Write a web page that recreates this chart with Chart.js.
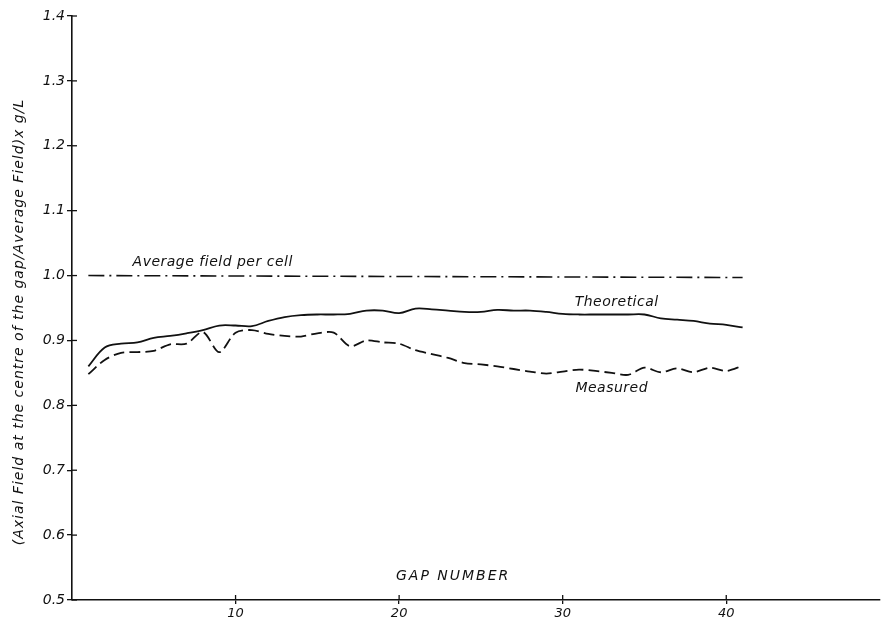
<!DOCTYPE html>
<html>
<head>
<meta charset="utf-8">
<script src="https://cdn.jsdelivr.net/npm/chart.js@4.4.1/dist/chart.umd.min.js"></script>
<style>
  html, body { margin: 0; padding: 0; background: #fff; }
  #wrap { width: 882px; height: 621px; }
</style>
</head>
<body>
<div id="wrap"><canvas id="grafica" width="882" height="621"></canvas></div>
<script>
// gap numbers 1..41
const gaps = [1,2,3,4,5,6,7,8,9,10,11,12,13,14,15,16,17,18,19,20,21,22,23,24,25,26,27,28,29,30,31,32,33,34,35,36,37,38,39,40,41];

const theoretical = [0.860,0.889,0.895,0.897,0.904,0.907,0.911,0.916,0.923,0.923,0.922,0.930,0.936,0.939,0.940,0.940,0.941,0.946,0.946,0.942,
  0.949,0.948,0.946,0.944,0.944,0.947,0.946,0.946,0.944,0.941,0.940,0.940,0.940,0.940,0.940,0.934,0.932,0.930,0.926,0.924,0.920];

const measured = [0.848,0.870,0.881,0.882,0.884,0.894,0.895,0.913,0.882,0.912,0.916,0.910,0.907,0.906,0.911,0.912,0.891,0.900,0.897,0.895,
  0.885,0.879,0.873,0.865,0.863,0.860,0.856,0.852,0.849,0.852,0.855,0.853,0.850,0.847,0.858,0.851,0.857,0.851,0.858,0.853,0.861];

const averageX = [1, 41];
const averageY = [1.0, 0.997];

const yTicks = [0.5,0.6,0.7,0.8,0.9,1.0,1.1,1.2,1.3,1.4];
const xTicks = [10,20,30,40];

// text labels placed in data units (centre of the text)
const notes = [
  {text: 'Average field per cell', x: 8.6, y: 1.02},
  {text: 'Theoretical', x: 33.3, y: 0.959},
  {text: 'Measured', x: 33.0, y: 0.826},
  {text: 'GAP NUMBER', x: 23.3, y: 0.537, spacing: '2px'}
];
const yTitle = '(Axial Field at the centre of the gap/Average Field)x g/L';

const FONT = '"DejaVu Sans", sans-serif';

const pts = (xs, ys) => xs.map((x, i) => ({x: x, y: ys[i]}));

// inner tick stubs, free texts and the rotated axis title
const extras = {
  id: 'extras',
  afterDraw(chart) {
    const c = chart.ctx, xs = chart.scales.x, ys = chart.scales.y;
    const left = chart.chartArea.left, bottom = chart.chartArea.bottom;
    const hasLS = 'letterSpacing' in c;
    c.save();
    c.strokeStyle = '#111';
    c.lineWidth = 1.3;
    yTicks.forEach(v => {
      const p = ys.getPixelForValue(v);
      c.beginPath(); c.moveTo(left, p); c.lineTo(left + 5, p); c.stroke();
    });
    xTicks.forEach(v => {
      const p = xs.getPixelForValue(v);
      c.beginPath(); c.moveTo(p, bottom); c.lineTo(p, bottom - 5); c.stroke();
    });
    c.fillStyle = '#111';
    c.textBaseline = 'middle';
    c.textAlign = 'center';
    notes.forEach(n => {
      c.font = 'oblique 14px ' + FONT;
      if (hasLS) c.letterSpacing = n.spacing || '0.5px';
      c.fillText(n.text, xs.getPixelForValue(n.x), ys.getPixelForValue(n.y));
    });
    c.translate(19, 322);
    c.rotate(-Math.PI / 2);
    c.font = 'oblique 14px ' + FONT;
    if (hasLS) c.letterSpacing = '1px';
    c.fillText(yTitle, 0, 0);
    c.restore();
  }
};

document.addEventListener('DOMContentLoaded', function () {
  const ctx = document.getElementById('grafica').getContext('2d');
  new Chart(ctx, {
    type: 'line',
    data: {
      datasets: [
        {
          label: 'Average field per cell',
          data: pts(averageX, averageY),
          borderColor: '#111', borderWidth: 1.6,
          borderDash: [16, 5, 2, 5],
          pointRadius: 0, tension: 0
        },
        {
          label: 'Theoretical',
          data: pts(gaps, theoretical),
          borderColor: '#111', borderWidth: 1.8,
          pointRadius: 0, tension: 0.35
        },
        {
          label: 'Measured',
          data: pts(gaps, measured),
          borderColor: '#111', borderWidth: 1.8,
          borderDash: [11, 5],
          pointRadius: 0, tension: 0.3
        }
      ]
    },
    options: {
      responsive: false,
      animation: false,
      layout: { padding: { top: 16, right: 2, left: 0, bottom: 0 } },
      plugins: { legend: { display: false }, tooltip: { enabled: false } },
      scales: {
        x: {
          type: 'linear', min: 0, max: 49.4,
          afterFit(scale) { scale.height = 21; },
          afterBuildTicks(scale) { scale.ticks = xTicks.map(v => ({value: v})); },
          grid: { drawOnChartArea: false, tickLength: 4, color: '#111', lineWidth: 1.3 },
          border: { color: '#111', width: 1.5 },
          ticks: { color: '#111', padding: 2, font: { family: FONT, size: 13, style: 'italic' } }
        },
        y: {
          type: 'linear', min: 0.5, max: 1.4,
          afterFit(scale) { scale.width = 72; },
          afterBuildTicks(scale) { scale.ticks = yTicks.map(v => ({value: v})); },
          grid: { drawOnChartArea: false, tickLength: 5, color: '#111', lineWidth: 1.3 },
          border: { color: '#111', width: 1.6 },
          ticks: {
            color: '#111', padding: 2,
            font: { family: FONT, size: 14, style: 'italic' },
            callback: v => v.toFixed(1)
          }
        }
      }
    },
    plugins: [extras]
  });
});
</script>
</body>
</html>
